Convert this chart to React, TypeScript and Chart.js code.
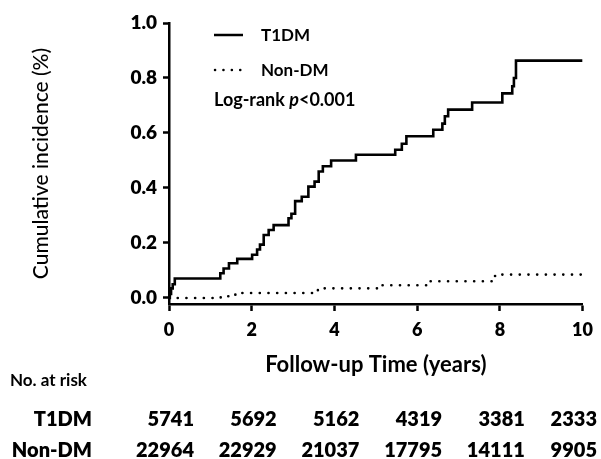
import React, { useEffect, useRef } from 'react';
import { Chart, registerables } from 'chart.js';

Chart.register(...registerables);

// Kaplan-Meier style cumulative incidence, T1DM
const t1dmTimes = [0, 0.02, 0.05, 0.09, 0.14, 1.24, 1.32, 1.45, 1.65, 2.01, 2.13, 2.2, 2.29, 2.41, 2.53, 2.89, 2.96, 3.05, 3.21, 3.37, 3.52, 3.62, 3.72, 3.92, 4.52, 5.47, 5.63, 5.74, 6.39, 6.61, 6.67, 6.75, 7.33, 8.06, 8.3, 8.34, 8.39, 10];
const t1dmValues = [0, 0.015, 0.035, 0.05, 0.071, 0.09, 0.107, 0.126, 0.142, 0.157, 0.176, 0.194, 0.229, 0.247, 0.265, 0.29, 0.306, 0.352, 0.368, 0.405, 0.423, 0.46, 0.479, 0.5, 0.521, 0.539, 0.561, 0.588, 0.612, 0.634, 0.661, 0.685, 0.711, 0.744, 0.77, 0.8, 0.863, 0.863];

// Non-DM
const nonDmTimes = [0, 1.25, 1.45, 1.69, 3.5, 3.6, 5.12, 6.23, 7.82, 7.98, 10];
const nonDmValues = [0, 0.006, 0.012, 0.018, 0.026, 0.035, 0.046, 0.061, 0.08, 0.085, 0.085];

const xTickValues = [0, 2, 4, 6, 8, 10];
const yTickValues = [0, 0.2, 0.4, 0.6, 0.8, 1.0];

const riskGroups = ['T1DM', 'Non-DM'];
const riskT1dm = [5741, 5692, 5162, 4319, 3381, 2333];
const riskNonDm = [22964, 22929, 21037, 17795, 14111, 9905];

const FONT = 'Lato, "Open Sans", "DejaVu Sans", sans-serif';

const overlayPlugin = {
  id: 'overlay',
  afterDraw(chart: any) {
    const { ctx, chartArea, scales } = chart;
    const left = chartArea.left;
    const top = chartArea.top;
    ctx.save();
    ctx.fillStyle = '#000';
    ctx.strokeStyle = '#000';
    // legend
    const lx0 = left + 45;
    const lx1 = left + 74;
    const ltx = left + 92;
    ctx.lineWidth = 2.5;
    ctx.setLineDash([]);
    ctx.beginPath();
    ctx.moveTo(lx0, top + 12);
    ctx.lineTo(lx1, top + 12);
    ctx.stroke();
    ctx.lineCap = 'round';
    ctx.setLineDash([0.1, 8.3]);
    ctx.beginPath();
    ctx.moveTo(lx0 + 1, top + 47);
    ctx.lineTo(lx1, top + 47);
    ctx.stroke();
    ctx.setLineDash([]);
    ctx.lineCap = 'butt';
    ctx.textBaseline = 'middle';
    ctx.textAlign = 'left';
    ctx.font = `bold 17px ${FONT}`;
    ctx.fillText('T1DM', ltx, top + 13);
    ctx.fillText('Non-DM', ltx, top + 48);
    ctx.font = `bold 18px ${FONT}`;
    const lrText = 'Log-rank ';
    ctx.fillText(lrText, lx0, top + 77);
    let w = ctx.measureText(lrText).width;
    ctx.font = `italic bold 18px ${FONT}`;
    ctx.fillText('p', lx0 + w, top + 77);
    w += ctx.measureText('p').width;
    ctx.font = `bold 18px ${FONT}`;
    ctx.fillText('<0.001', lx0 + w, top + 77);

    // number at risk table
    ctx.font = `bold 17px ${FONT}`;
    ctx.textAlign = 'left';
    ctx.fillText('No. at risk', 10, 381);
    ctx.font = `800 20px ${FONT}`;
    ctx.textAlign = 'right';
    const rows = [riskT1dm, riskNonDm];
    const rowY = [420, 451];
    riskGroups.forEach((g, i) => {
      ctx.fillText(g, 92, rowY[i]);
      rows[i].forEach((v, j) => {
        const px = scales.x.getPixelForValue(xTickValues[j]);
        const rx = Math.min(px + 25, chart.width - 4);
        ctx.fillText(String(v), rx, rowY[i]);
      });
    });
    ctx.restore();
  },
};

export default function App() {
  const ref = useRef<HTMLCanvasElement | null>(null);
  useEffect(() => {
    if (!ref.current) return;
    const toPts = (ts: number[], vs: number[]) => ts.map((t, i) => ({ x: t, y: vs[i] }));
    const chart = new Chart(ref.current, {
      type: 'line',
      data: {
        datasets: [
          {
            label: 'T1DM',
            data: toPts(t1dmTimes, t1dmValues),
            borderColor: '#000',
            borderWidth: 2.6,
            stepped: 'before',
            pointRadius: 0,
            fill: false,
          },
          {
            label: 'Non-DM',
            data: toPts(nonDmTimes, nonDmValues),
            borderColor: '#000',
            borderWidth: 2.6,
            borderDash: [0.1, 8.6],
            borderCapStyle: 'round',
            stepped: 'before',
            pointRadius: 0,
            fill: false,
          },
        ],
      },
      options: {
        animation: false,
        responsive: false,
        maintainAspectRatio: false,
        layout: { padding: { top: 23, right: 13, bottom: 81, left: 0 } },
        plugins: { legend: { display: false }, tooltip: { enabled: false } },
        scales: {
          x: {
            type: 'linear',
            min: 0,
            max: 10,
            afterBuildTicks: (s: any) => {
              s.ticks = xTickValues.map((v) => ({ value: v }));
            },
            afterFit: (s: any) => {
              s.height = 74;
            },
            grid: {
              display: true,
              drawOnChartArea: false,
              drawTicks: true,
              tickLength: 7,
              tickWidth: 2.5,
              tickColor: '#000',
            },
            border: { display: true, color: '#000', width: 2.5 },
            ticks: {
              color: '#000',
              padding: 8,
              font: { family: FONT, size: 18, weight: 800 },
            },
            title: {
              display: true,
              text: 'Follow-up Time (years)',
              color: '#000',
              padding: { top: 0, bottom: 0 },
              font: { family: FONT, size: 22, weight: 'bold' },
            },
          },
          y: {
            type: 'linear',
            min: -0.022,
            max: 1.0,
            afterBuildTicks: (s: any) => {
              s.ticks = yTickValues.map((v) => ({ value: v }));
            },
            afterFit: (s: any) => {
              s.width = 169;
            },
            grid: {
              display: true,
              drawOnChartArea: false,
              drawTicks: true,
              tickLength: 6,
              tickWidth: 2.5,
              tickColor: '#000',
            },
            border: { display: true, color: '#000', width: 2.5 },
            ticks: {
              color: '#000',
              padding: 6,
              font: { family: FONT, size: 19, weight: 800 },
              callback: (v: any) => Number(v).toFixed(1),
            },
            title: {
              display: true,
              text: 'Cumulative incidence (%)',
              color: '#000',
              padding: { top: 29, bottom: 0 },
              font: { family: FONT, size: 21, weight: 500 },
            },
          },
        },
      },
      plugins: [overlayPlugin],
    } as any);
    return () => chart.destroy();
  }, []);
  return (
    <div style={{ position: 'absolute', left: 0, top: 0, width: 601, height: 459, background: '#fff' }}>
      <canvas ref={ref} width={601} height={459} style={{ width: 601, height: 459, display: 'block' }} />
    </div>
  );
}
